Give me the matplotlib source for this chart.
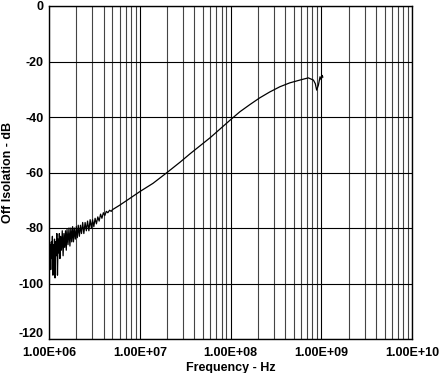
import matplotlib
matplotlib.use('Agg')
import matplotlib.pyplot as plt
import matplotlib.transforms as mtransforms
from matplotlib.ticker import FixedLocator, FuncFormatter, LogLocator, NullFormatter

# Frequency (Hz) and off isolation (dB)
# noisy low-frequency part
noisy_freq = [1.000e6, 1.015e6, 1.030e6, 1.045e6, 1.060e6, 1.075e6, 1.090e6, 1.105e6,
              1.120e6, 1.135e6, 1.150e6, 1.165e6, 1.180e6, 1.200e6, 1.220e6, 1.240e6,
              1.260e6, 1.280e6, 1.300e6, 1.320e6, 1.340e6, 1.370e6, 1.400e6, 1.430e6,
              1.460e6, 1.490e6, 1.520e6, 1.550e6, 1.580e6, 1.620e6, 1.660e6, 1.700e6,
              1.740e6, 1.780e6, 1.820e6, 1.860e6, 1.900e6, 1.950e6, 2.000e6, 2.050e6,
              2.100e6, 2.160e6, 2.220e6, 2.280e6, 2.350e6, 2.420e6, 2.500e6, 2.580e6,
              2.660e6, 2.750e6, 2.840e6, 2.930e6, 3.020e6, 3.120e6, 3.220e6, 3.330e6,
              3.450e6, 3.570e6, 3.700e6, 3.830e6, 3.970e6, 4.120e6, 4.280e6, 4.450e6,
              4.650e6, 4.850e6]
noisy_db = [-84, -93, -86, -95, -85, -91, -83, -97,
            -86, -92, -84, -98, -85, -90, -82, -97,
            -84, -89, -82, -91, -83, -88, -81, -90,
            -82, -87, -81, -88, -80.5, -86, -80, -86.5,
            -80, -85, -79.5, -85, -80, -84, -79.5, -83.5,
            -79, -83, -79, -82, -78, -82, -78, -81,
            -77.5, -81, -77, -80, -77, -79.5, -76.5, -78.5,
            -76, -77.5, -75, -76.5, -74.5, -75.5, -74, -74.5,
            -73.6, -74.0]

# smooth part up to the resonance near 1 GHz
smooth_freq = [5.0e6, 6.0e6, 7.8e6, 1.0e7, 1.4e7, 2.0e7, 2.8e7, 3.6e7, 6.0e7,
               1.0e8, 1.27e8, 1.64e8, 2.1e8, 2.7e8, 3.5e8, 4.5e8, 5.8e8, 7.2e8,
               8.2e8, 8.6e8, 8.9e8, 9.3e8, 9.7e8, 1.0e9, 1.02e9, 1.04e9]
smooth_db = [-73.4, -71.8, -69.3, -66.9, -63.9, -60.0, -56.2, -53.2, -47.4,
             -41.0, -38.1, -35.5, -33.1, -31.0, -29.1, -27.7, -26.7, -25.9,
             -26.7, -28.0, -30.3, -28.5, -25.5, -26.6, -25.0, -25.6]

freq = noisy_freq + smooth_freq
isolation = noisy_db + smooth_db

x_ticks = [1e6, 1e7, 1e8, 1e9, 1e10]
y_ticks = [0, -20, -40, -60, -80, -100, -120]

plt.rcParams['font.family'] = ['Liberation Sans', 'DejaVu Sans']
plt.rcParams['axes.unicode_minus'] = False

fig = plt.figure(figsize=(4.41, 3.73), dpi=100)
ax = fig.add_axes([49 / 441, 1 - 339 / 373, 363 / 441, 333 / 373])

ax.plot(freq, isolation, color='black', lw=0.9)

ax.set_xscale('log')
ax.set_xlim(1e6, 1e10)
ax.set_ylim(-120, 0)

ax.xaxis.set_major_locator(FixedLocator(x_ticks))
ax.xaxis.set_major_formatter(FuncFormatter(lambda v, p: f'{v:.2E}'))
ax.xaxis.set_minor_locator(LogLocator(base=10, subs=range(2, 10)))
ax.xaxis.set_minor_formatter(NullFormatter())
ax.yaxis.set_major_locator(FixedLocator(y_ticks))

ax.grid(which='major', color='black', lw=0.8)
ax.grid(which='minor', axis='x', color='#444444', lw=0.8)
ax.tick_params(which='both', length=0, labelsize=9)
ax.tick_params(axis='x', pad=6)
ax.tick_params(axis='y', pad=4)
for lab in ax.get_xticklabels() + ax.get_yticklabels():
    lab.set_fontweight('bold')

# the bottom y label sits a little above the axis in the reference
fig.canvas.draw()
bottom_lab = ax.get_yticklabels()[-1]
bottom_lab.set_transform(bottom_lab.get_transform() +
                         mtransforms.ScaledTranslation(0, 5 / 72, fig.dpi_scale_trans))

for s in ax.spines.values():
    s.set_color('black')
    s.set_linewidth(1)

ax.set_xlabel('Frequency - Hz', fontsize=9, fontweight='bold', labelpad=2)
ax.set_ylabel('Off Isolation - dB', fontsize=9, fontweight='bold', labelpad=3)

fig.savefig('out.png', dpi=100)
